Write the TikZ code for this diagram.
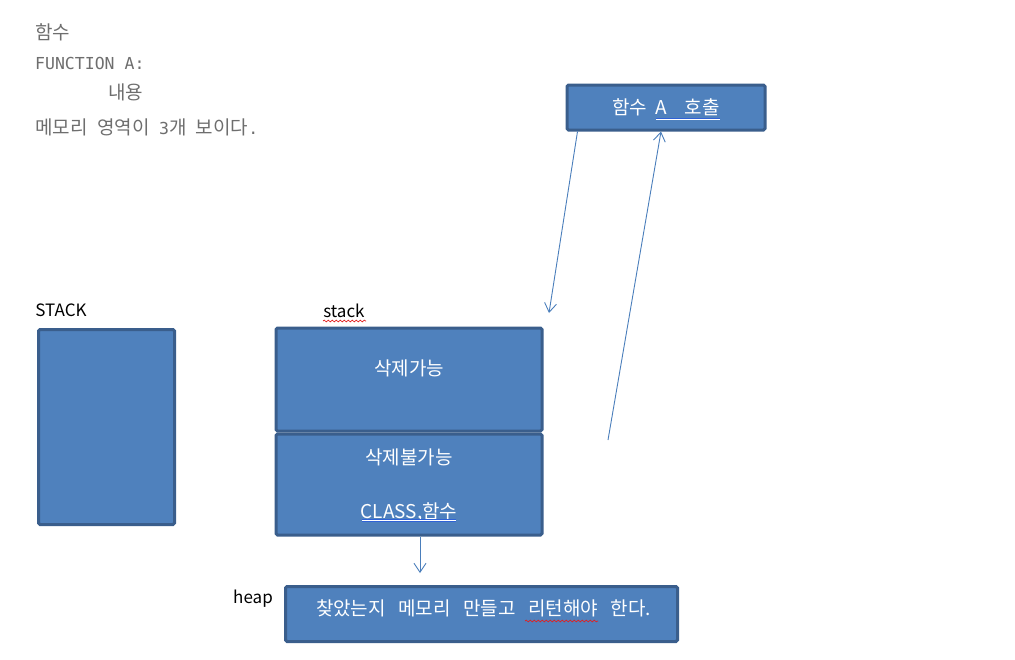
\documentclass[tikz,border=0pt]{standalone}
\usepackage{fontspec}
\setmainfont{Noto Sans CJK KR}
\newfontfamily\monofont{DejaVu Sans Mono}
\usepackage{xcolor}
\usetikzlibrary{arrows.meta,positioning,calc,decorations.pathmorphing}

\definecolor{boxfill}{HTML}{4F81BD}
\definecolor{boxedge}{HTML}{3A5E8C}
\definecolor{arrowblue}{HTML}{4A7EBB}
\definecolor{notegray}{HTML}{6E6E6E}
\definecolor{spellblue}{HTML}{2F62D6}
\definecolor{spellred}{HTML}{E02020}
\newcommand{\wsp}{\hspace{12.5pt}}

\begin{document}
\begin{tikzpicture}[x=1pt, y=-1pt, >={Straight Barb[length=9pt,width=12pt]},
 membox/.style={draw=boxedge, fill=boxfill, line width=3pt, rounded corners=1.5pt, inner sep=0pt},
 boxtext/.style={text=white, font=\fontsize{19}{22}\selectfont, inner sep=0pt},
 note/.style={anchor=west, text=notegray, font=\fontsize{19}{22}\selectfont, inner sep=0pt},
 tag/.style={text=black, font=\fontsize{17}{20}\selectfont, inner sep=0pt},
 link/.style={->, draw=arrowblue, line width=0.9pt},
 squiggle/.style={draw=spellred, line width=0.7pt, decorate, decoration={snake, amplitude=0.9pt, segment length=4pt}},
 dblline/.style={draw=spellblue, line width=0.8pt, double distance=1pt}]
\useasboundingbox (0,0) rectangle (1015,659);
% notes at top left
\node[note] (n1) at (35,32) {함수};
\node[note, font=\monofont\fontsize{16.5}{19}\selectfont] (n2) at (35,63) {FUNCTION A:};
\node[note] (n3) at (108,92) {내용};
\node[note] (n4) at (35,127) {메모리\hspace{9.5pt}영역이\hspace{9.5pt}{\monofont\fontsize{16.5}{19}\selectfont 3}개\hspace{9.5pt}보이다{\monofont\fontsize{16.5}{19}\selectfont .}};
% call box
\node[membox, minimum width=198pt, minimum height=45pt] (call) at (666,107.5) {};
\node[boxtext] (calltxt) at (call.center) {함수\hspace{8pt}A\hspace{18pt}호출};
\draw[dblline] (656,119) -- (720,119);
% left STACK
\node[tag] (stacktag) at (61,310) {STACK};
\node[membox, minimum width=136pt, minimum height=195pt] (stackbig) at (106.5,427) {};
% stack
\node[tag] (stacklbl) at (344,311) {stack};
\draw[squiggle] (323,321) -- (366,321);
\node[membox, minimum width=266pt, minimum height=103pt] (free) at (409,379.5) {};
\node[membox, minimum width=266pt, minimum height=101pt, below=0pt of free] (fixed) {};
\node[boxtext] (freetxt) at ([yshift=11.5pt]free.center) {삭제가능};
\node[boxtext] (fixedtxt) at ([yshift=27.5pt]fixed.center) {삭제불가능};
\node[boxtext] (classtxt) at ([yshift=-27.5pt]fixed.center) {CLASS,함수};
\draw[dblline] (362,520.5) -- (456,520.5);
% heap
\node[tag] (heaptag) at (253,599) {heap};
\node[membox, minimum width=392pt, minimum height=55pt] (heap) at (481.5,614) {};
\node[boxtext] (heaptxt) at ([yshift=6pt,xshift=2pt]heap.center) {찾았는지\wsp 메모리\wsp 만들고\wsp 리턴해야\wsp 한다.};
\draw[squiggle] (525,621) -- (598,621);
% arrows
\coordinate (callend) at (549,313);
\coordinate (backstart) at (608,440);
\coordinate (heapend) at (420,573);
\draw[link] ([xshift=12pt]call.south west) -- (callend);
\draw[link] (backstart) -- ([xshift=-5pt]call.south);
\draw[link] ([xshift=11pt]fixed.south) -- (heapend);
\end{tikzpicture}
\end{document}
